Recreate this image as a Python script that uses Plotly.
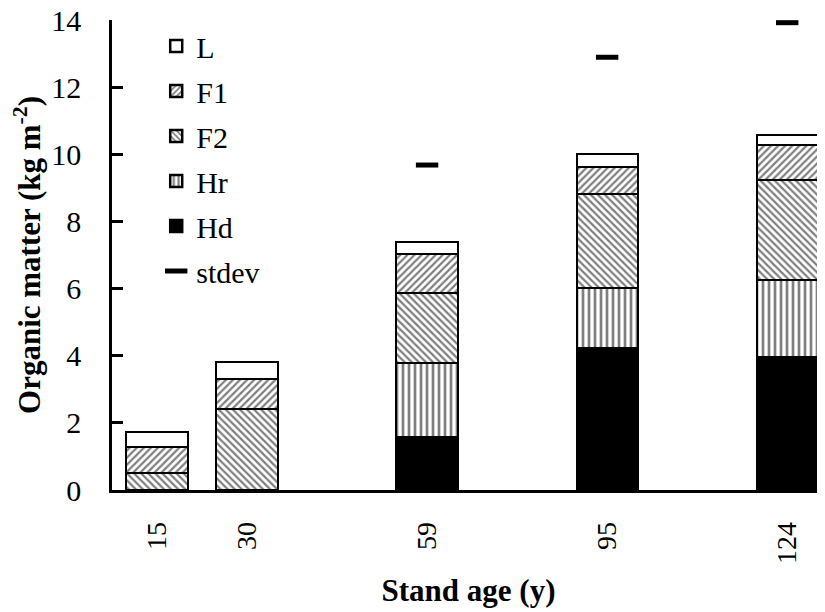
import plotly.graph_objects as go

stand_age = ["15", "30", "59", "95", "124"]
Hd = [0.0, 0.0, 1.59, 4.22, 3.97]
Hr = [0.0, 0.0, 2.20, 1.79, 2.29]
F2 = [0.52, 2.40, 2.09, 2.81, 2.97]
F1 = [0.75, 0.90, 1.15, 0.80, 1.05]
L = [0.45, 0.50, 0.37, 0.40, 0.29]
stdev_mark = [None, None, 9.68, 12.89, 13.92]

# layout: slot index along x (gaps between later stands)
slot = [0, 1, 3, 5, 7]

SERIF = "Liberation Serif, Times New Roman, serif"
line = dict(color="black", width=2.5)

fig = go.Figure()
series = [
    ("Hd", Hd, dict(color="black", line=line), 5),
    ("Hr", Hr, dict(color="white", line=line,
                    pattern=dict(shape="|", fgcolor="black", bgcolor="white", size=6, solidity=0.45)), 4),
    ("F2", F2, dict(color="white", line=line,
                    pattern=dict(shape="\\", fgcolor="black", bgcolor="white", size=5, solidity=0.45)), 3),
    ("F1", F1, dict(color="white", line=line,
                    pattern=dict(shape="/", fgcolor="black", bgcolor="white", size=5, solidity=0.45)), 2),
    ("L", L, dict(color="white", line=line), 1),
]
for name, vals, marker, rank in series:
    fig.add_trace(go.Bar(x=slot, y=vals, name=name, marker=marker, width=0.68,
                         legendrank=rank, legendgroup=name))

fig.add_trace(go.Scatter(x=slot, y=stdev_mark, mode="markers", name="stdev",
                         marker=dict(symbol="line-ew", size=16, color="black",
                                     line=dict(color="black", width=5)),
                         legendrank=6, legendgroup="stdev"))

fig.update_layout(
    width=825, height=612,
    margin=dict(l=104, r=8, t=12, b=130),
    paper_bgcolor="white", plot_bgcolor="white",
    barmode="stack", bargap=0,
    font=dict(family=SERIF, color="black", size=30),
    showlegend=True,
    legend=dict(x=0.062, y=1.0, xanchor="left", yanchor="top",
                font=dict(family=SERIF, size=30), traceorder="grouped",
                tracegroupgap=3, bgcolor="rgba(0,0,0,0)", itemwidth=30),
    xaxis=dict(range=[-0.5, 7.42], tickmode="array", tickvals=slot, ticktext=stand_age,
               tickangle=-90, ticks="", showline=True, linecolor="black", linewidth=2.5,
               showgrid=False, zeroline=False, ticklabelstandoff=18, automargin=False,
               ticklabeloverflow="allow",
               tickfont=dict(family=SERIF, size=28),
               title=dict(text="<b>Stand age (y)</b>", font=dict(family=SERIF, size=31), standoff=17)),
    yaxis=dict(range=[0, 14], tickvals=[0, 2, 4, 6, 8, 10, 12, 14], ticks="inside", ticklen=11,
               tickwidth=2.5, tickcolor="black", showline=True, linecolor="black", linewidth=2.5,
               showgrid=False, zeroline=False, ticklabelstandoff=22, automargin=False,
               ticklabeloverflow="allow",
               tickfont=dict(family=SERIF, size=30),
               title=dict(text="<b>Organic matter (kg m<sup>-2</sup>)</b>", font=dict(family=SERIF, size=31), standoff=16)),
)

fig.write_html("out.html")
